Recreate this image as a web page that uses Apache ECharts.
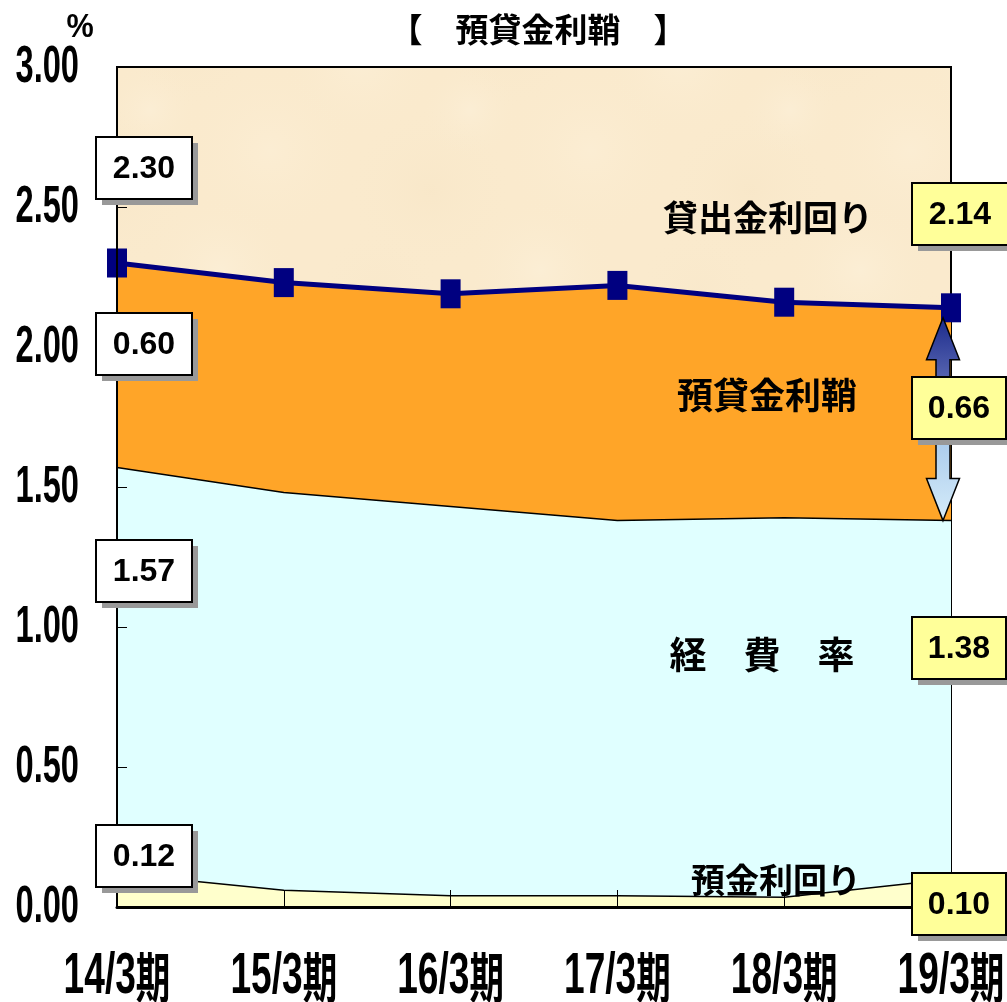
<!DOCTYPE html>
<html>
<head>
<meta charset="utf-8">
<script src="https://cdn.jsdelivr.net/npm/echarts@6/dist/echarts.min.js"></script>
<style>
  html, body { margin: 0; padding: 0; background: #fff; }
  #chart { width: 1007px; height: 1002px; }
</style>
</head>
<body>
<div id="chart"></div>
<script>
// Periods and rates (%)
const categories = ['14/3期', '15/3期', '16/3期', '17/3期', '18/3期', '19/3期'];
const loanRate = [2.30, 2.23, 2.19, 2.22, 2.16, 2.14];      // 貸出金利回り
const expenseRatio = [1.57, 1.48, 1.43, 1.38, 1.39, 1.38];  // 経費率
const depositRate = [0.12, 0.06, 0.04, 0.04, 0.035, 0.10];  // 預金利回り
const spreadEnds = [0.60, 0.66];                             // 預貸金利鞘 (first, last)
const yTickValues = [0, 0.5, 1.0, 1.5, 2.0, 2.5, 3.0];

const NUM_FONT = "'Liberation Sans', Arial, 'Noto Sans CJK JP', sans-serif";
const JP_FONT = "'Noto Sans CJK JP', sans-serif";
const CONDENSE = 0.64;

// Parchment-like fill for the plot background: soft light and dark patches
function parchment() {
  const size = 320;
  const cv = document.createElement('canvas');
  cv.width = size; cv.height = size;
  const ctx = cv.getContext('2d');
  ctx.fillStyle = '#FAEACD';
  ctx.fillRect(0, 0, size, size);
  const patches = [
    [40, 60, 80, 'rgba(255,246,228,0.3)'], [190, 40, 70, 'rgba(245,226,194,0.3)'],
    [270, 150, 90, 'rgba(255,245,226,0.28)'], [110, 190, 85, 'rgba(244,224,190,0.25)'],
    [220, 270, 75, 'rgba(255,247,230,0.3)'], [60, 290, 65, 'rgba(246,228,198,0.25)'],
    [150, 110, 50, 'rgba(255,248,234,0.25)'], [300, 20, 55, 'rgba(246,228,198,0.25)']
  ];
  patches.forEach(([x, y, r, c]) => {
    for (let dx = -size; dx <= size; dx += size) {
      for (let dy = -size; dy <= size; dy += size) {
        const g = ctx.createRadialGradient(x + dx, y + dy, 0, x + dx, y + dy, r);
        g.addColorStop(0, c);
        g.addColorStop(1, 'rgba(250,234,205,0)');
        ctx.fillStyle = g;
        ctx.fillRect(x + dx - r, y + dy - r, 2 * r, 2 * r);
      }
    }
  });
  return cv;
}

const chart = echarts.init(document.getElementById('chart'), null, { renderer: 'canvas' });

chart.setOption({
  animation: false,
  backgroundColor: '#ffffff',
  grid: {
    left: 117, right: 56, top: 67, bottom: 95,
    containLabel: false,
    outerBoundsMode: 'none',
    show: true,
    backgroundColor: { image: parchment(), repeat: 'repeat' },
    borderColor: '#000000',
    borderWidth: 2
  },
  xAxis: {
    type: 'category',
    data: categories,
    boundaryGap: false,
    z: 10,
    axisLine: { lineStyle: { color: '#000', width: 3 } },
    axisTick: { inside: true, interval: 0, length: 17, lineStyle: { color: '#000', width: 1 } },
    axisLabel: { show: false },
    splitLine: { show: false }
  },
  yAxis: {
    type: 'value',
    min: yTickValues[0], max: yTickValues[yTickValues.length - 1], interval: yTickValues[1] - yTickValues[0],
    z: 10,
    axisLine: { show: true, lineStyle: { color: '#000', width: 2 } },
    axisTick: { show: true, inside: true, length: 10, lineStyle: { color: '#000', width: 1 } },
    axisLabel: { show: false },
    splitLine: { show: false }
  },
  series: [
    {
      name: '貸出金利回り(面)', type: 'line', data: loanRate,
      symbol: 'none', lineStyle: { width: 0 },
      areaStyle: { color: '#FFA528', opacity: 1 }, z: 2
    },
    {
      name: '経費率', type: 'line', data: expenseRatio,
      symbol: 'none', lineStyle: { color: '#000', width: 1.5 },
      areaStyle: { color: '#E0FFFF', opacity: 1 }, z: 3
    },
    {
      name: '預金利回り', type: 'line', data: depositRate,
      symbol: 'none', lineStyle: { color: '#000', width: 1.5 },
      areaStyle: { color: '#FFFFCC', opacity: 1 }, z: 4
    },
    {
      name: '貸出金利回り', type: 'line', data: loanRate,
      symbol: 'rect', symbolSize: [20, 29], clip: false,
      lineStyle: { color: '#000080', width: 5 },
      itemStyle: { color: '#000080' }, z: 6
    }
  ]
});

const graphics = [];

// Condensed tick labels placed through the axes' own scales
yTickValues.forEach(v => {
  const p = chart.convertToPixel({ yAxisIndex: 0 }, v);
  graphics.push({
    type: 'text', x: 79, y: p + 1, scaleX: CONDENSE, z: 50,
    style: {
      text: v.toFixed(2), fill: '#000', font: 'bold 51px ' + NUM_FONT,
      align: 'right', verticalAlign: 'middle'
    }
  });
});
categories.forEach((c, i) => {
  const px = chart.convertToPixel({ xAxisIndex: 0 }, i);
  const m = c.match(/^(.*?)(期)$/);
  graphics.push({
    type: 'text', x: px, y: 977, scaleX: CONDENSE, z: 50,
    style: {
      text: '{n|' + m[1] + '}{k|' + m[2] + '}',
      align: 'center', verticalAlign: 'middle',
      rich: {
        n: { fill: '#000', fontSize: 58, fontWeight: 'bold', fontFamily: NUM_FONT, verticalAlign: 'middle' },
        k: { fill: '#000', fontSize: 54, fontWeight: 'bold', fontFamily: JP_FONT, verticalAlign: 'middle' }
      }
    }
  });
});

// Value boxes with solid drop shadow
function valueBox(x, y, w, h, text, fill) {
  graphics.push({
    type: 'rect', z: 110, shape: { x: x + 6, y: y + 6, width: w, height: h },
    style: { fill: '#999999' }
  });
  graphics.push({
    type: 'rect', z: 111, shape: { x: x, y: y, width: w, height: h },
    style: { fill: fill, stroke: '#000', lineWidth: 2 }
  });
  graphics.push({
    type: 'text', z: 112, x: x + w / 2, y: y + h / 2 + 1,
    style: {
      text: text, fill: '#000', font: 'bold 32px ' + NUM_FONT,
      align: 'center', verticalAlign: 'middle'
    }
  });
}

function plainText(x, y, text, size, family, scaleX) {
  graphics.push({
    type: 'text', x: x, y: y, z: 100, scaleX: scaleX || 1,
    style: {
      text: text, fill: '#000', font: 'bold ' + size + 'px ' + family,
      align: 'center', verticalAlign: 'middle'
    }
  });
}

plainText(80, 28, '%', 34, NUM_FONT, 0.9);
plainText(538, 29, '【　預貸金利鞘　】', 33, JP_FONT);
plainText(768, 218, '貸出金利回り', 35, JP_FONT);
plainText(767, 395, '預貸金利鞘', 36, JP_FONT);
plainText(762, 655, '経　費　率', 37, JP_FONT);
plainText(776, 880, '預金利回り', 34, JP_FONT);

// Double arrow marking the spread at the last period
const last = categories.length - 1;
const pTop = chart.convertToPixel({ gridIndex: 0 }, [last, loanRate[last]]);
const pBot = chart.convertToPixel({ gridIndex: 0 }, [last, expenseRatio[last]]);
const ax = pTop[0] - 8;
const topTip = pTop[1] + 10;
const botTip = pBot[1];
const mid = (topTip + botTip) / 2;
const headLen = 42, headHalf = 16.5, shaftHalf = 7;

graphics.push({
  type: 'polygon', z: 90,
  shape: {
    points: [
      [ax, topTip], [ax + headHalf, topTip + headLen], [ax + shaftHalf, topTip + headLen],
      [ax + shaftHalf, mid], [ax - shaftHalf, mid], [ax - shaftHalf, topTip + headLen],
      [ax - headHalf, topTip + headLen]
    ]
  },
  style: {
    fill: new echarts.graphic.LinearGradient(0, 0, 0, 1, [
      { offset: 0, color: '#1B2A8C' }, { offset: 1, color: '#7F8CC8' }
    ]),
    stroke: '#000', lineWidth: 1.5
  }
});
graphics.push({
  type: 'polygon', z: 90,
  shape: {
    points: [
      [ax, botTip], [ax + headHalf, botTip - headLen], [ax + shaftHalf, botTip - headLen],
      [ax + shaftHalf, mid], [ax - shaftHalf, mid], [ax - shaftHalf, botTip - headLen],
      [ax - headHalf, botTip - headLen]
    ]
  },
  style: {
    fill: new echarts.graphic.LinearGradient(0, 0, 0, 1, [
      { offset: 0, color: '#9FC3E8' }, { offset: 1, color: '#D6ECFA' }
    ]),
    stroke: '#000', lineWidth: 1.5
  }
});

const WHITE = '#FFFFFF', YELLOW = '#FFFF99';
valueBox(96, 137, 96, 62, loanRate[0].toFixed(2), WHITE);
valueBox(96, 313, 96, 62, spreadEnds[0].toFixed(2), WHITE);
valueBox(96, 540, 96, 62, expenseRatio[0].toFixed(2), WHITE);
valueBox(96, 825, 96, 62, depositRate[0].toFixed(2), WHITE);
valueBox(912, 183, 96, 62, loanRate[last].toFixed(2), YELLOW);
valueBox(912, 377, 94, 62, spreadEnds[1].toFixed(2), YELLOW);
valueBox(912, 617, 94, 62, expenseRatio[last].toFixed(2), YELLOW);
valueBox(912, 873, 94, 62, depositRate[last].toFixed(2), YELLOW);

chart.setOption({ graphic: graphics });
</script>
</body>
</html>
